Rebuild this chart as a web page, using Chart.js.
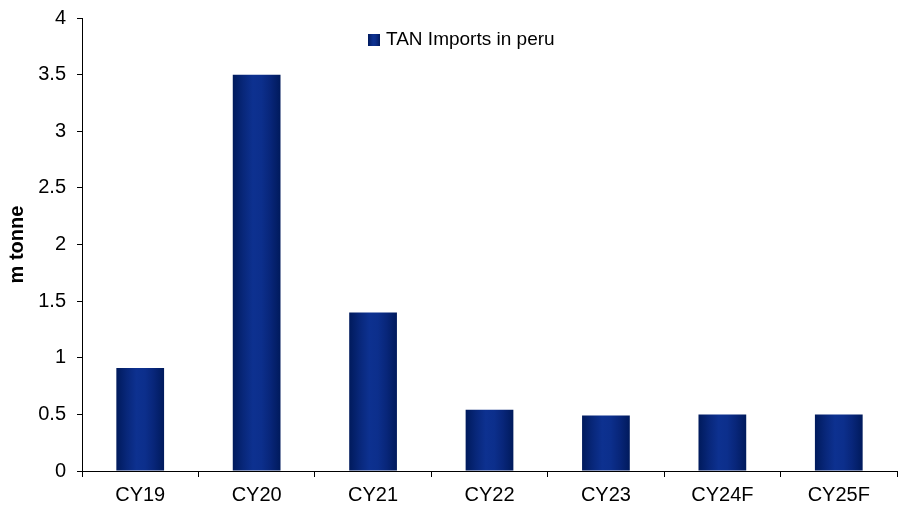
<!DOCTYPE html>
<html lang="en">
<head>
    <meta charset="UTF-8">
    <title>TAN Imports in peru</title>
    <script src="https://cdn.jsdelivr.net/npm/chart.js"></script>
    <style>
        html, body {
            margin: 0;
            padding: 0;
            background: #ffffff;
        }
        .chart-container {
            width: 909px;
            height: 506px;
        }
    </style>
</head>
<body>

<div class="chart-container">
    <canvas id="importsChart"></canvas>
</div>

<script>
    const years = ['CY19', 'CY20', 'CY21', 'CY22', 'CY23', 'CY24F', 'CY25F'];
    const imports = [0.91, 3.5, 1.4, 0.54, 0.49, 0.5, 0.5];
    const seriesLabel = 'TAN Imports in peru';
    const axisTitle = 'm tonne';

    const FONT = "'Liberation Sans', Arial, sans-serif";
    const BAR_PCT = 0.41;

    // horizontal shading across a bar, dark edges and a lighter middle
    const barGradient = (ctx, left, right) => {
        const g = ctx.createLinearGradient(left, 0, right, 0);
        g.addColorStop(0, '#001a5c');
        g.addColorStop(0.22, '#08277a');
        g.addColorStop(0.42, '#0d3190');
        g.addColorStop(0.6, '#0c2f8c');
        g.addColorStop(0.78, '#08267a');
        g.addColorStop(1, '#001a5c');
        return g;
    };

    const barFill = (context) => {
        const chart = context.chart;
        const xScale = chart.scales.x;
        if (!chart.chartArea || !xScale) return '#0a2a80';
        const step = xScale.width / years.length;
        const half = step * BAR_PCT / 2;
        const cx = xScale.getPixelForValue(context.dataIndex);
        return barGradient(chart.ctx, cx - half, cx + half);
    };

    // legend sits inside the plot area near the top
    const innerLegend = {
        id: 'innerLegend',
        afterDraw(chart) {
            const { ctx, chartArea } = chart;
            const x = chartArea.left + 286;
            const y = chartArea.top + 22;
            ctx.save();
            ctx.fillStyle = barGradient(ctx, x, x + 12);
            ctx.fillRect(x, y - 6, 12, 12);
            ctx.fillStyle = '#000';
            ctx.font = '19px ' + FONT;
            ctx.textBaseline = 'middle';
            ctx.fillText(chart.data.datasets[0].label, x + 18, y);
            ctx.restore();
        }
    };

    new Chart(document.getElementById('importsChart'), {
        type: 'bar',
        data: {
            labels: years,
            datasets: [{
                label: seriesLabel,
                data: imports,
                backgroundColor: barFill,
                borderWidth: 0,
                barPercentage: BAR_PCT,
                categoryPercentage: 1
            }]
        },
        options: {
            responsive: true,
            maintainAspectRatio: false,
            animation: false,
            layout: {
                padding: { top: 18, right: 12, bottom: 0, left: 0 }
            },
            plugins: {
                legend: { display: false },
                tooltip: { enabled: false }
            },
            scales: {
                x: {
                    offset: true,
                    afterFit: (scale) => { scale.height = 35; },
                    grid: {
                        offset: true,
                        drawOnChartArea: false,
                        drawTicks: true,
                        tickLength: 6,
                        color: '#000',
                        lineWidth: 1
                    },
                    border: { color: '#000', width: 1 },
                    ticks: {
                        color: '#000',
                        padding: 6,
                        font: { family: FONT, size: 20 }
                    }
                },
                y: {
                    min: 0,
                    max: 4,
                    afterFit: (scale) => {
                        scale.width = 82;
                        scale.paddingTop = 0;
                        scale.paddingBottom = 0;
                    },
                    grid: {
                        drawOnChartArea: false,
                        drawTicks: true,
                        tickLength: 5,
                        color: '#000',
                        lineWidth: 1
                    },
                    border: { color: '#000', width: 1 },
                    ticks: {
                        stepSize: 0.5,
                        color: '#000',
                        padding: 11,
                        font: { family: FONT, size: 20 },
                        callback: (v) => String(v)
                    },
                    title: {
                        display: true,
                        text: axisTitle,
                        color: '#000',
                        padding: { top: 5, bottom: 0 },
                        font: { family: FONT, size: 20, weight: 'bold' }
                    }
                }
            }
        },
        plugins: [innerLegend]
    });
</script>

</body>
</html>
